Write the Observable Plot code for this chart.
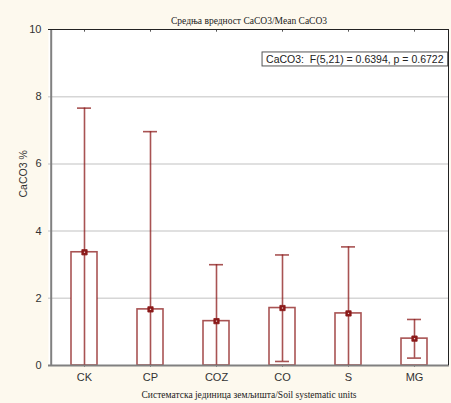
<!DOCTYPE html>
<html>
<head>
<meta charset="utf-8">
<script src="https://cdn.jsdelivr.net/npm/d3@7"></script>
<script src="https://cdn.jsdelivr.net/npm/@observablehq/plot@0.6"></script>
<style>
  html, body { margin: 0; padding: 0; background: #fdf9ee; overflow: hidden; }
  #chart svg { display: block; }
</style>
</head>
<body>
<div id="chart"></div>
<script>
const categories = ["CK", "CP", "COZ", "CO", "S", "MG"];
const means = [3.37, 1.67, 1.32, 1.71, 1.55, 0.80];
const upper = [7.66, 6.96, 3.00, 3.29, 3.53, 1.37];
const lower = [-0.92, -3.62, -0.36, 0.12, -0.43, 0.22];
const yTicks = [0, 2, 4, 6, 8, 10];
const titleText = "Средња вредност CaCO3/Mean CaCO3";
const xLabel = "Систематска јединица земљишта/Soil systematic units";
const yLabel = "CaCO3 %";
const statText = "CaCO3:  F(5,21) = 0.6394, p = 0.6722";

const data = categories.map((c, i) => ({cat: c, mean: means[i], hi: upper[i], lo: lower[i]}));
const red = "#8b1a1a";

const plot = Plot.plot({
  width: 451,
  height: 403,
  marginLeft: 48,
  marginRight: 2,
  marginTop: 29,
  marginBottom: 38,
  style: {background: "#fdf9ee", fontFamily: "Liberation Sans, Arial, sans-serif", fontSize: "11px", color: "#333"},
  x: {domain: categories, padding: 0, label: null},
  y: {domain: [0, 10], label: null},
  marks: [
    Plot.frame({fill: "white", stroke: "none"}),
    Plot.gridY(yTicks.filter(d => d > 0 && d < 10), {stroke: "#d6d6d6", strokeOpacity: 1, strokeWidth: 1.5}),
    Plot.axisY(yTicks, {tickSize: 0, tickPadding: 7, fontSize: 11, fill: "#333"}),
    Plot.axisX({tickSize: 0, tickPadding: 8, fontSize: 11, fill: "#333"}),
    Plot.ruleX(categories, {x: d => d, y1: -0.05, y2: 0.08, stroke: "#555"}),
    Plot.ruleX(categories, {x: d => d, y1: 9.92, y2: 10, stroke: "#555"}),
    Plot.barY(data, {x: "cat", y: "mean", fill: "white", stroke: red, strokeWidth: 1.6, strokeOpacity: 0.75, insetLeft: 20, insetRight: 20}),
    Plot.ruleX(data, {x: "cat", y1: "lo", y2: "hi", stroke: red, strokeWidth: 1.6, strokeOpacity: 0.75, clip: true}),
    Plot.tickY(data, {x: "cat", y: "hi", stroke: red, strokeWidth: 1.6, strokeOpacity: 0.75, insetLeft: 26, insetRight: 26, clip: true}),
    Plot.tickY(data.filter(d => d.lo >= 0), {x: "cat", y: "lo", stroke: red, strokeWidth: 1.6, strokeOpacity: 0.75, insetLeft: 26, insetRight: 26}),
    Plot.dot(data, {x: "cat", y: "mean", symbol: "square", r: 3, fill: red, stroke: red, strokeWidth: 0.8}),
    Plot.dot(data, {x: "cat", y: "mean", symbol: "square", r: 0.7, fill: "#e8c8c8", stroke: "none"}),
    Plot.ruleY([0], {stroke: "#808080", strokeWidth: 2}),
    Plot.ruleX([0], {x: () => categories[0], dx: -33.3, y1: 0, y2: 10, stroke: "#808080", strokeWidth: 2}),
    Plot.ruleY([10], {stroke: "#222", strokeWidth: 1}),
    Plot.text([titleText], {frameAnchor: "top", dy: -12, fontFamily: "Liberation Serif, Times New Roman, serif", fontSize: 9.5, fill: "#222"}),
    Plot.text([xLabel], {frameAnchor: "bottom", dy: 32, fontFamily: "Liberation Serif, Times New Roman, serif", fontSize: 9.5, fill: "#222"}),
    Plot.text([yLabel], {frameAnchor: "left", dx: -25, rotate: -90, fontSize: 10.5, fill: "#333"}),
    Plot.text([statText], {frameAnchor: "top-right", dx: -6, dy: 26, textAnchor: "end", fontSize: 10.5, fill: "#222", className: "stat"})
  ]
});
document.getElementById("chart").appendChild(plot);

// right frame edge (black) and legend box
const svg = d3.select(plot);
const W = 451, H = 403;
svg.append("line").attr("x1", W - 2.5).attr("x2", W - 2.5).attr("y1", 29).attr("y2", H - 38)
  .attr("stroke", "#222").attr("stroke-width", 1);
const t = plot.querySelector(".stat text");
if (t) {
  const b = t.getBBox();
  const g = t.parentNode;
  const r = document.createElementNS("http://www.w3.org/2000/svg", "rect");
  r.setAttribute("x", b.x - 4); r.setAttribute("y", b.y - 1);
  r.setAttribute("width", b.width + 8); r.setAttribute("height", b.height + 2);
  r.setAttribute("fill", "white"); r.setAttribute("stroke", "#555"); r.setAttribute("stroke-width", 1);
  r.setAttribute("transform", t.getAttribute("transform") || "");
  g.insertBefore(r, t);
}
</script>
</body>
</html>
